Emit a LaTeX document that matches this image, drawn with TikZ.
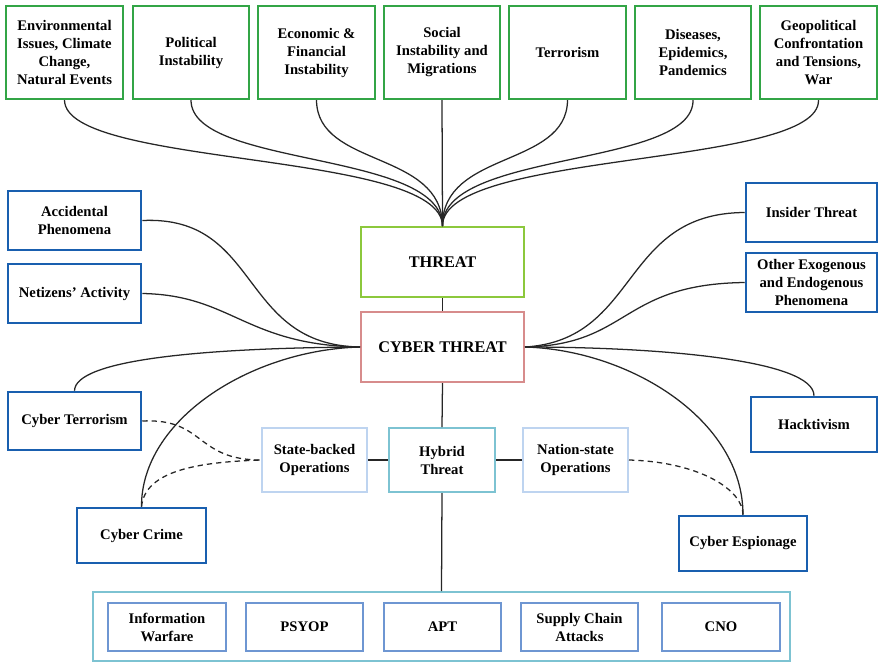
\documentclass[tikz,border=0pt]{standalone}
\usepackage{fontspec}
\setmainfont{Liberation Serif}
\definecolor{cgreen}{RGB}{50,165,70}
\definecolor{lgreen}{RGB}{140,200,60}
\definecolor{cred}{RGB}{215,140,140}
\definecolor{dblue}{RGB}{25,95,175}
\definecolor{lblue}{RGB}{190,212,240}
\definecolor{cteal}{RGB}{125,195,210}
\definecolor{mblue}{RGB}{110,150,210}
\newcommand\bx[7]{\node[#6, minimum width={(#4-#2)*0.75pt}, minimum height={(#5-#3)*0.75pt}] (#1) at ({(#2+#4)/2},{(#3+#5)/2}) {#7};}
\begin{document}
\begin{tikzpicture}[x=0.75pt,y=-0.75pt,
  base/.style={draw, rectangle, inner sep=0pt, align=center, fill=white,
    font=\bfseries\fontsize{11}{13.5}\selectfont},
  topbox/.style={base, draw=cgreen, line width=1.6pt},
  bluebox/.style={base, draw=dblue, line width=1.9pt},
  threatbox/.style={base, draw=lgreen, line width=1.5pt, font=\bfseries\fontsize{12.2}{14}\selectfont},
  cyberbox/.style={base, draw=cred, line width=1.5pt, font=\bfseries\fontsize{12.2}{14}\selectfont},
  opbox/.style={base, draw=lblue, line width=1.5pt},
  hybox/.style={base, draw=cteal, line width=1.5pt},
  contbox/.style={base, draw=cteal, line width=1.5pt},
  innerbox/.style={base, draw=mblue, line width=1.5pt},
  conn/.style={line width=0.95pt, black!85},
  dconn/.style={conn, dash pattern=on 4pt off 3pt},
]
\useasboundingbox (0,0) rectangle (878,662);
% top row
\bx{env}{6}{6}{123}{99}{topbox}{Environmental\\Issues, Climate\\Change,\\Natural Events}
\bx{pol}{133}{6}{249}{99}{topbox}{Political\\Instability}
\bx{eco}{258}{6}{375}{99}{topbox}{Economic \&\\Financial\\Instability}
\bx{soc}{384}{6}{500}{99}{topbox}{Social\\Instability and\\Migrations}
\bx{ter}{509}{6}{626}{99}{topbox}{Terrorism}
\bx{dis}{635}{6}{751}{99}{topbox}{Diseases,\\Epidemics,\\Pandemics}
\bx{geo}{760}{6}{877}{99}{topbox}{Geopolitical\\Confrontation\\and Tensions,\\War}
% center
\bx{threat}{361}{227}{524}{297}{threatbox}{THREAT}
\bx{cyber}{361}{312}{524}{382}{cyberbox}{CYBER THREAT}
% left
\bx{acc}{8}{191}{141}{250}{bluebox}{Accidental\\Phenomena}
\bx{net}{8}{264}{141}{323}{bluebox}{Netizens’ Activity}
\bx{cter}{8}{392}{141}{450}{bluebox}{Cyber Terrorism}
\bx{ccrime}{77}{508}{206}{563}{bluebox}{Cyber Crime}
% right
\bx{ins}{746}{183}{877}{242}{bluebox}{Insider Threat}
\bx{oth}{746}{253}{877}{312}{bluebox}{Other Exogenous\\and Endogenous\\Phenomena}
\bx{hack}{751}{397}{877}{452}{bluebox}{Hacktivism}
\bx{esp}{679}{516}{807}{571}{bluebox}{Cyber Espionage}
% middle row
\bx{state}{262}{428}{367}{492}{opbox}{State-backed\\Operations}
\bx{hyb}{389}{428}{495}{492}{hybox}{Hybrid\\Threat}
\bx{nation}{523}{428}{628}{492}{opbox}{Nation-state\\Operations}
% bottom container
\bx{cont}{93}{592}{790}{661}{contbox}{}
\bx{iw}{108}{603}{226}{651}{innerbox}{Information\\Warfare}
\bx{psy}{246}{603}{363}{651}{innerbox}{PSYOP}
\bx{apt}{384}{603}{501}{651}{innerbox}{APT}
\bx{sca}{521}{603}{638}{651}{innerbox}{Supply Chain\\Attacks}
\bx{cno}{662}{603}{780}{651}{innerbox}{CNO}
% top connectors
\draw[conn] (env.south) .. controls (65,168) and (442,150) .. (threat.north);
\draw[conn] (pol.south) .. controls (191,168) and (442,150) .. (threat.north);
\draw[conn] (eco.south) .. controls (317,168) and (442,150) .. (threat.north);
\draw[conn] (soc.south) -- (threat.north);
\draw[conn] (ter.south) .. controls (567,168) and (442,150) .. (threat.north);
\draw[conn] (dis.south) .. controls (694,168) and (442,150) .. (threat.north);
\draw[conn] (geo.south) .. controls (820,168) and (442,150) .. (threat.north);
% vertical spine
\draw[conn] (threat.south) -- (cyber.north);
\draw[conn] (cyber.south) -- (hyb.north);
\draw[conn] (hyb.south) -- (cont.north);
\draw[conn] (state.east) -- (hyb.west);
\draw[conn] (hyb.east) -- (nation.west);
% left connectors
\draw[conn] (acc.east) .. controls (262,215) and (238,345) .. (cyber.west);
\draw[conn] (net.east) .. controls (232,295) and (245,345) .. (cyber.west);
\draw[conn] (cter.north) .. controls (75,360) and (200,348) .. (cyber.west);
\draw[conn] (ccrime.north) .. controls (141,420) and (250,350) .. (cyber.west);
% right connectors
\draw[conn] (cyber.east) .. controls (640,340) and (620,213) .. (ins.west);
\draw[conn] (cyber.east) .. controls (630,345) and (620,284) .. (oth.west);
\draw[conn] (cyber.east) .. controls (660,347) and (814,360) .. (hack.north);
\draw[conn] (cyber.east) .. controls (630,350) and (743,420) .. (esp.north);
% dashed
\draw[dconn] (cter.east) .. controls (205,418) and (195,460) .. (state.west);
\draw[dconn] (ccrime.north) .. controls (145,470) and (200,462) .. (state.west);
\draw[dconn] (nation.east) .. controls (700,462) and (743,490) .. (esp.north);
\end{tikzpicture}
\end{document}
